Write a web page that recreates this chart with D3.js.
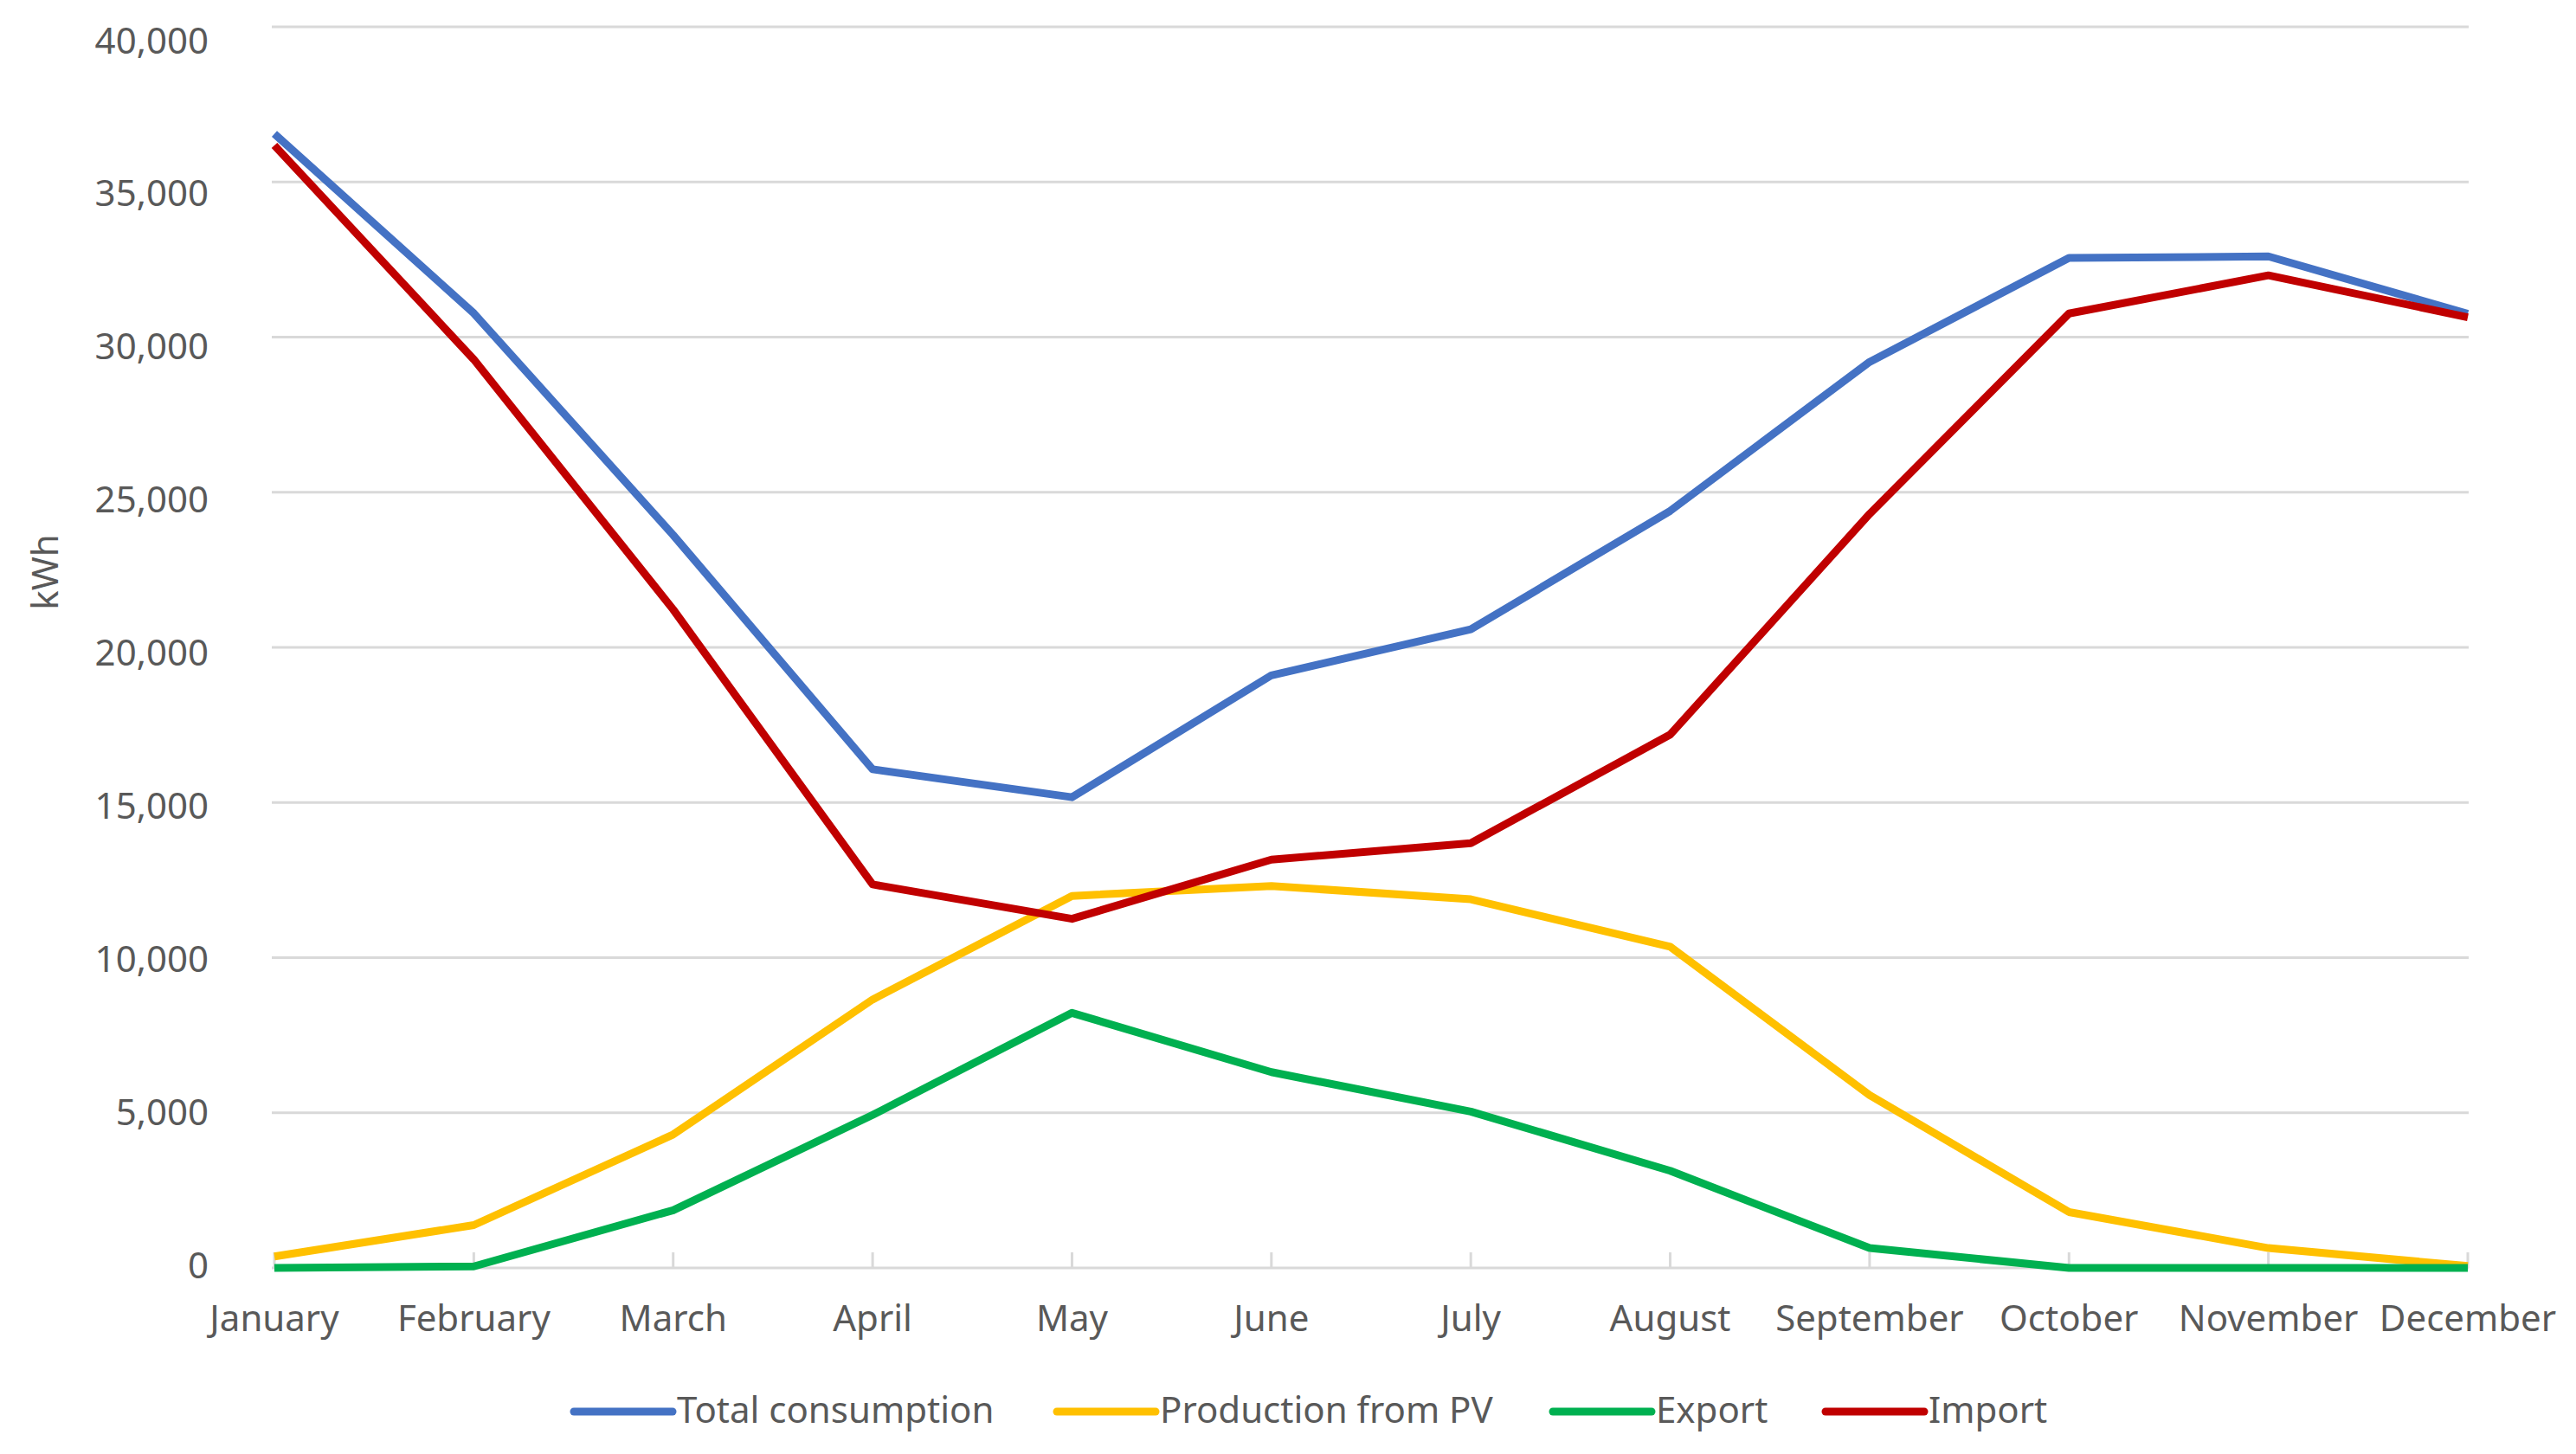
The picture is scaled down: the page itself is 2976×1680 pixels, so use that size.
<!DOCTYPE html>
<html>
<head>
<meta charset="utf-8">
<script src="https://cdn.jsdelivr.net/npm/d3@7"></script>
<style>
  html, body { margin: 0; padding: 0; background: #ffffff; }
  svg { display: block; }
  text { font-family: "Noto Sans", "Open Sans", sans-serif; fill: #595959; }
</style>
</head>
<body>
<svg id="chart" width="2976" height="1680"></svg>
<script>
const months = ["January","February","March","April","May","June","July","August","September","October","November","December"];
const totalConsumption = [36550, 30770, 23620, 16070, 15170, 19100, 20580, 24400, 29200, 32550, 32600, 30750];
const productionPV     = [370, 1380, 4300, 8650, 11990, 12310, 11880, 10350, 5570, 1800, 640, 60];
const exportKWh        = [0, 50, 1860, 4930, 8220, 6310, 5040, 3130, 640, 0, 0, 0];
const importKWh        = [36180, 29280, 21220, 12360, 11250, 13160, 13690, 17190, 24300, 30760, 31990, 30640];
const yTicks = [0, 5000, 10000, 15000, 20000, 25000, 30000, 35000, 40000];
const seriesNames = ["Total consumption", "Production from PV", "Export", "Import"];
const seriesColors = ["#4472C4", "#FFC000", "#00B050", "#C00000"];

const series = [
  { name: seriesNames[0], values: totalConsumption, color: seriesColors[0] },
  { name: seriesNames[1], values: productionPV, color: seriesColors[1] },
  { name: seriesNames[2], values: exportKWh, color: seriesColors[2] },
  { name: seriesNames[3], values: importKWh, color: seriesColors[3] }
];

const svg = d3.select("#chart");
const x = d3.scalePoint().domain(months).range([317, 2851]);
const y = d3.scaleLinear().domain([0, 40000]).range([1465, 31]);
// label positions (labels in the reference sit slightly compressed relative to gridlines)
const yLab = d3.scaleLinear().domain([0, 40000]).range([1460, 45]);
const fmt = d3.format(",");

// gridlines
svg.append("g").selectAll("line").data(yTicks).join("line")
  .attr("x1", 314).attr("x2", 2852)
  .attr("y1", d => y(d)).attr("y2", d => y(d))
  .attr("stroke", "#d9d9d9").attr("stroke-width", 3);

// x axis tick marks (pointing up from baseline)
svg.append("g").selectAll("line").data(months).join("line")
  .attr("x1", d => x(d)).attr("x2", d => x(d))
  .attr("y1", y(0) - 18).attr("y2", y(0))
  .attr("stroke", "#d9d9d9").attr("stroke-width", 3);

// y tick labels
svg.append("g").selectAll("text").data(yTicks).join("text")
  .attr("x", 241).attr("y", d => yLab(d))
  .attr("dominant-baseline", "central")
  .attr("text-anchor", "end")
  .attr("font-size", 42)
  .text(d => fmt(d));

// x labels
svg.append("g").selectAll("text").data(months).join("text")
  .attr("x", d => x(d)).attr("y", 1538)
  .attr("text-anchor", "middle")
  .attr("font-size", 42)
  .text(d => d);

// y axis title
svg.append("text")
  .attr("transform", "translate(67,661) rotate(-90)")
  .attr("text-anchor", "middle")
  .attr("font-size", 42)
  .text("kWh");

// lines
const line = d3.line().x((d, i) => x(months[i])).y(d => y(d));
svg.append("g").selectAll("path").data(series).join("path")
  .attr("d", d => line(d.values))
  .attr("fill", "none")
  .attr("stroke", d => d.color)
  .attr("stroke-width", 9)
  .attr("stroke-linejoin", "round")
  .attr("stroke-linecap", "butt");

// legend
const legendX = [663, 1221, 1794, 2109];
const lg = svg.append("g").selectAll("g").data(series).join("g")
  .attr("transform", (d, i) => `translate(${legendX[i]},1631)`);
lg.append("line")
  .attr("x1", 0).attr("x2", 114).attr("y1", 0).attr("y2", 0)
  .attr("stroke", d => d.color).attr("stroke-width", 9).attr("stroke-linecap", "round");
lg.append("text")
  .attr("x", 119).attr("y", 13)
  .attr("font-size", 42)
  .text(d => d.name);
</script>
</body>
</html>
